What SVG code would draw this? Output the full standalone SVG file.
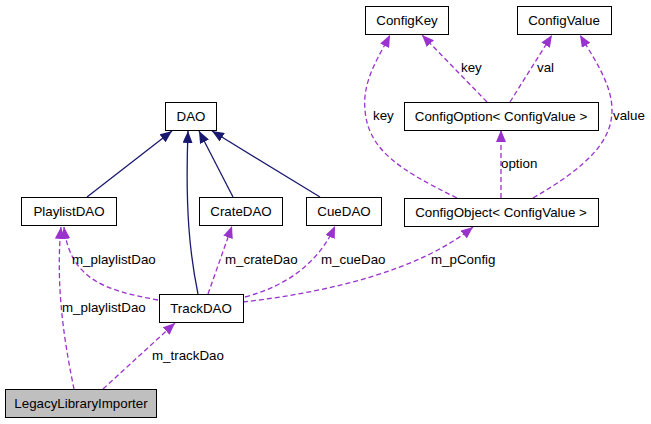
<svg xmlns="http://www.w3.org/2000/svg" width="651" height="424" viewBox="0 0 651 424">
<style>
.box{fill:#fff;stroke:#000;stroke-width:1}
.sel{fill:#bfbfbf;stroke:#000;stroke-width:1}
text{font-family:"Liberation Sans",Arial,sans-serif;font-size:13.33px;fill:#000}
.nt{text-anchor:middle}
.inh{fill:none;stroke:#191970;stroke-width:1.3;marker-end:url(#ah)}
.use{fill:none;stroke:#9a32cd;stroke-width:1.3;stroke-dasharray:5,3;marker-end:url(#au)}
</style>
<defs>
<marker id="ah" viewBox="0 0 12 10" markerUnits="userSpaceOnUse" markerWidth="12" markerHeight="10" refX="12" refY="5" orient="auto"><path d="M0,0 L12,5 L0,10 z" fill="#191970" stroke="none"/></marker>
<marker id="au" viewBox="0 0 12 10" markerUnits="userSpaceOnUse" markerWidth="12" markerHeight="10" refX="12" refY="5" orient="auto"><path d="M0,0 L12,5 L0,10 z" fill="#9a32cd" stroke="none"/></marker>
</defs>
<g id="connectors">
<path class="inh" d="M87,197 L172,131"/>
<path class="inh" d="M198,294 C190,255 185,210 188,131"/>
<path class="inh" d="M233,197 L199,131"/>
<path class="inh" d="M320,197 L212,131"/>
<path class="use" d="M74,389 C66,350 55,290 61,227"/>
<path class="use" d="M158,300 C110,291 70,282 64,227"/>
<path class="use" d="M103,389 L175,323"/>
<path class="use" d="M208,294 L232,226"/>
<path class="use" d="M245,297 C290,285 320,260 335,226"/>
<path class="use" d="M243,302 C330,292 420,270 473,227"/>
<path class="use" d="M487,102 L422,35"/>
<path class="use" d="M510,102 L552,35"/>
<path class="use" d="M457,198 C400,170 368,150 365,110 C362,80 380,55 390,35"/>
<path class="use" d="M533,198 C590,165 612,140 612,110 C612,85 595,60 580,35"/>
<path class="use" d="M501,198 L501,130"/>
<text x="62" y="312">m_playlistDao</text>
<text x="72" y="264">m_playlistDao</text>
<text x="152" y="360">m_trackDao</text>
<text x="225" y="264">m_crateDao</text>
<text x="321" y="264">m_cueDao</text>
<text x="431" y="264">m_pConfig</text>
<text x="461" y="72">key</text>
<text x="537" y="72">val</text>
<text x="373" y="120">key</text>
<text x="613" y="120">value</text>
<text x="501" y="168">option</text>
</g>
<g id="DAO"><rect class="box" x="165.5" y="102.5" width="51" height="28"/><text class="nt" x="191" y="121">DAO</text></g>
<g id="PlaylistDAO"><rect class="box" x="21.5" y="197.5" width="95" height="28"/><text class="nt" x="69" y="216">PlaylistDAO</text></g>
<g id="CrateDAO"><rect class="box" x="199.5" y="197.5" width="83" height="28"/><text class="nt" x="241" y="216">CrateDAO</text></g>
<g id="CueDAO"><rect class="box" x="306.5" y="197.5" width="75" height="28"/><text class="nt" x="344" y="216">CueDAO</text></g>
<g id="ConfigObject"><rect class="box" x="404.5" y="198.5" width="194" height="28"/><text class="nt" x="501" y="217">ConfigObject&lt; ConfigValue &gt;</text></g>
<g id="TrackDAO"><rect class="box" x="159.5" y="294.5" width="84" height="28"/><text class="nt" x="201" y="313">TrackDAO</text></g>
<g id="LegacyLibraryImporter"><rect class="sel" x="5.5" y="389.5" width="151" height="28"/><text class="nt" x="81" y="408">LegacyLibraryImporter</text></g>
<g id="ConfigKey"><rect class="box" x="365.5" y="6.5" width="83" height="28"/><text class="nt" x="407" y="25">ConfigKey</text></g>
<g id="ConfigValue"><rect class="box" x="517.5" y="6.5" width="94" height="28"/><text class="nt" x="564" y="25">ConfigValue</text></g>
<g id="ConfigOption"><rect class="box" x="404.5" y="102.5" width="194" height="28"/><text class="nt" x="501" y="121">ConfigOption&lt; ConfigValue &gt;</text></g>
</svg>
